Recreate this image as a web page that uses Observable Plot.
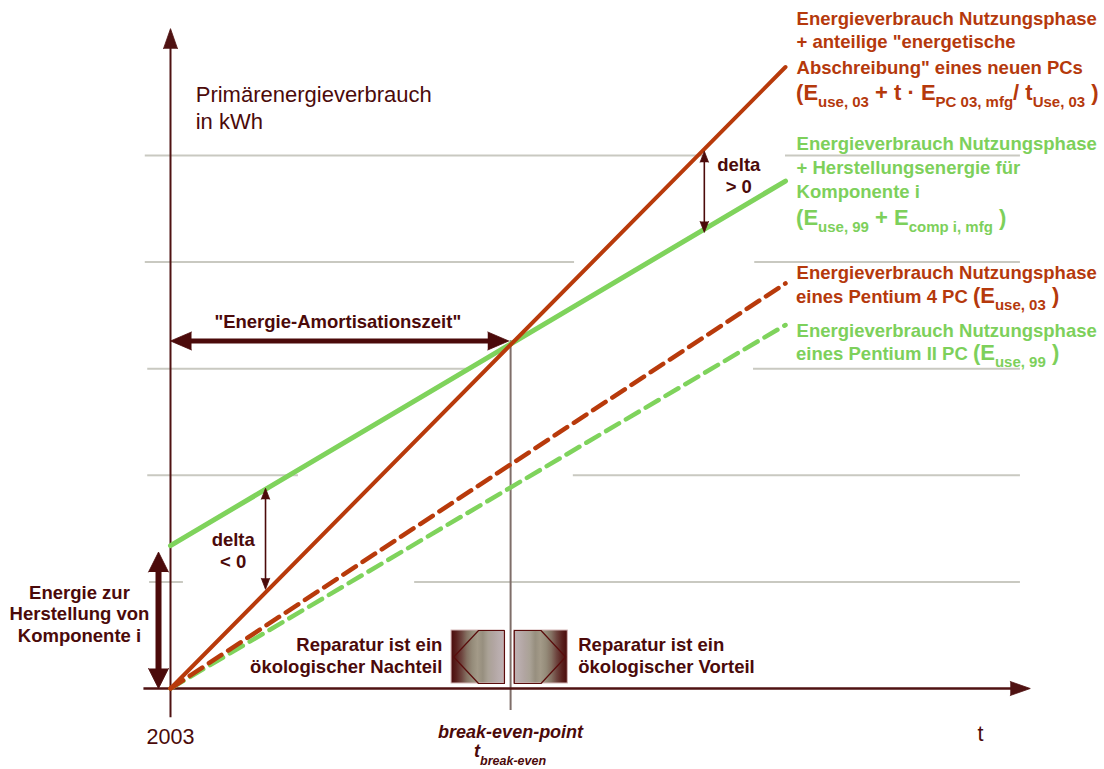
<!DOCTYPE html>
<html>
<head>
<meta charset="utf-8">
<script src="https://cdn.jsdelivr.net/npm/d3@7"></script>
<script src="https://cdn.jsdelivr.net/npm/@observablehq/plot@0.6"></script>
<style>
  body { margin: 0; background: #fff; }
  svg { display: block; }
</style>
</head>
<body>
<div id="chart"></div>
<script>
// ---------------- data (abstract units: t = time, e = energy in grid steps) ----------------
const lineT = [0, 10];
const energyNewPC  = [0, 5.83];   // E_use,03 + t · E_PC03,mfg / t_Use,03
const energyRepair = [1.34, 4.76]; // E_use,99 + E_comp i,mfg
const energyP4     = [0, 3.80];   // E_use,03
const energyP2     = [0, 3.41];   // E_use,99
const seriesNames  = ["newPC", "repair", "p4", "p2"];
const seriesValues = [energyNewPC, energyRepair, energyP4, energyP2];
const breakEvenT = 5.53;
const deltaT = [1.545, 8.68];           // where the two "delta" arrows are measured
const componentEnergy = [0, 1.28];      // "Energie zur Herstellung von Komponente i"
const gridLevels  = [5, 4, 3, 2, 1];
const gridStart   = [-0.41, -0.41, -0.37, -0.37, -0.34];
const gridGapFrom = [8.70, 6.57, 4.86, 2.08, 0.21];
const gridGapTo   = [10.0, 9.50, 9.48, 6.55, 3.97];
const gridEnd = 13.82;
const xTickLabels = ["2003"];

// ---------------- styling / layout ----------------
const FONT = "'Liberation Sans', Arial, Helvetica, sans-serif";
const MAROON = "#4b0a0a";
const AXIS = "#4f1212";
const RED = "#b83a0b";
const REDTXT = "#b5390c";
const GREEN = "#7fd35c";
const GREENTXT = "#7dd05b";
const GRID = "#c9c9c1";
const BE = "#7f6e69";
const LABEL = 18.5;

const X_DOMAIN = [0, 10], X_RANGE = [170, 785];
const Y_DOMAIN = [0, 5],  Y_RANGE = [688, 155];
const pxPerT = (X_RANGE[1] - X_RANGE[0]) / (X_DOMAIN[1] - X_DOMAIN[0]);
const pxPerE = (Y_RANGE[0] - Y_RANGE[1]) / (Y_DOMAIN[1] - Y_DOMAIN[0]);

// ---------------- derived tables ----------------
const lineRows = seriesNames.flatMap((s, i) => lineT.map((t, j) => ({series: s, t, e: seriesValues[i][j]})));
const valueAt = (vals, t) => vals[0] + (vals[1] - vals[0]) * (t - lineT[0]) / (lineT[1] - lineT[0]);
const gridRows = gridLevels.flatMap((e, i) => [
  {e, x1: gridStart[i], x2: gridGapFrom[i]},
  {e, x1: gridGapTo[i], x2: gridEnd}
]);

// arrow helper: shaft (link) + filled spike heads
function arrow(x1, y1, x2, y2, {both = false, len = 20, r = 7, width = 2, color = MAROON} = {}) {
  const dxp = (x2 - x1) * pxPerT, dyp = -(y2 - y1) * pxPerE;
  const L = Math.hypot(dxp, dyp);
  const ux = dxp / L / pxPerT, uy = -dyp / L / pxPerE;
  const cut = len * 0.6;
  const rot = Math.atan2(dxp, -dyp) * 180 / Math.PI;
  const s = both ? {x: x1 + ux * cut, y: y1 + uy * cut} : {x: x1, y: y1};
  const e = {x: x2 - ux * cut, y: y2 - uy * cut};
  const heads = [{x: x2, y: y2, rot}];
  if (both) heads.push({x: x1, y: y1, rot: rot + 180});
  return [
    Plot.link([{x1: s.x, y1: s.y, x2: e.x, y2: e.y}], {x1: "x1", y1: "y1", x2: "x2", y2: "y2", stroke: color, strokeWidth: width, strokeLinecap: "butt"}),
    Plot.vector(heads, {x: "x", y: "y", rotate: "rot", length: len, r, shape: "spike", anchor: "end", fill: color, stroke: color, strokeWidth: 0.8})
  ];
}

// rich text with subscripts (function mark using the plot's scales)
const SIZES = {n: LABEL, b: 22, s: 15};
function richText(rows) {
  return (index, scales) => {
    const g = d3.create("svg:g");
    for (const row of rows) {
      const t = g.append("text")
        .attr("x", scales.x(row.x)).attr("y", scales.y(row.y))
        .attr("fill", row.color).attr("text-anchor", row.anchor || "start")
        .attr("font-family", FONT).attr("font-weight", "bold")
        .style("white-space", "pre")
        .style("font-style", row.italic ? "italic" : null);
      let shifted = false;
      for (const [str, kind] of row.parts) {
        const sp = t.append("tspan").text(str).attr("font-size", (row.sizes || SIZES)[kind]);
        if (kind === "s" && !shifted) { sp.attr("dy", row.sub || 7); shifted = true; }
        else if (kind !== "s" && shifted) { sp.attr("dy", -(row.sub || 7)); shifted = false; }
      }
    }
    return g.node();
  };
}

// gradient boxes ("Reparatur" markers)
const boxes = [
  {side: "left",  x1: 4.57, x2: 5.43, y1: 0.544, y2: 0.047, fill: "url(#gradL)"},
  {side: "right", x1: 5.59, x2: 6.46, y1: 0.544, y2: 0.047, fill: "url(#gradR)"}
];
const boxOutline = boxes.flatMap((b, k) => {
  const w = b.x2 - b.x1, ym = (b.y1 + b.y2) / 2;
  const pts = b.side === "left"
    ? [[b.x2, b.y1], [b.x1 + 0.51 * w, b.y1], [b.x1 + 0.04 * w, ym], [b.x1 + 0.51 * w, b.y2], [b.x2, b.y2], [b.x2, b.y1]]
    : [[b.x1, b.y1], [b.x1 + 0.5 * w, b.y1], [b.x1 + 0.96 * w, ym], [b.x1 + 0.5 * w, b.y2], [b.x1, b.y2], [b.x1, b.y1]];
  return pts.map(([x, y]) => ({k, x, y}));
});
const stripeColors = ["#4a0a0a", "#5a221f", "#6e453f", "#857263", "#958c7a", "#a39a88", "#978f7f", "#aaa296", "#b1a5a1", "#b9adad", "#bfb2b4"];
const gradDefs = () => {
  const defs = d3.create("svg:defs");
  for (const [id, cols] of [["gradL", stripeColors], ["gradR", [...stripeColors].reverse()]]) {
    const lg = defs.append("linearGradient").attr("id", id).attr("x1", "0").attr("x2", "1").attr("y1", "0").attr("y2", "0");
    cols.forEach((c, i) => lg.append("stop").attr("offset", i / (cols.length - 1)).attr("stop-color", c));
  }
  return defs.node();
};

const txt = (rows, o) => Plot.text(rows, {x: "x", y: "y", text: "text", lineAnchor: "bottom", fontFamily: FONT, ...o});

const chart = Plot.plot({
  width: 1104,
  height: 769,
  margin: 0,
  x: {domain: X_DOMAIN, range: X_RANGE, axis: null},
  y: {domain: Y_DOMAIN, range: Y_RANGE, axis: null},
  style: {background: "#fff", fontFamily: FONT, overflow: "visible"},
  marks: [
    gradDefs,
    // grid
    Plot.ruleY(gridRows, {y: "e", x1: "x1", x2: "x2", stroke: GRID, strokeWidth: 2}),
    // break-even vertical
    Plot.ruleX([breakEvenT], {y1: -0.206, y2: valueAt(energyRepair, breakEvenT) + 0.03, stroke: BE, strokeWidth: 2}),
    // axes
    arrow(0, -0.27, 0, 6.19, {len: 20, r: 7, width: 2, color: AXIS}),
    arrow(-0.44, 0, 13.98, 0, {len: 20, r: 7, width: 2.5, color: AXIS}),
    // gradient boxes
    Plot.rect(boxes, {x1: "x1", x2: "x2", y1: "y1", y2: "y2", fill: "fill", stroke: "#d2b4b4", strokeWidth: 1}),
    Plot.line(boxOutline, {x: "x", y: "y", z: "k", stroke: "#5a0c0c", strokeWidth: 1.2}),
    // series
    Plot.line(lineRows.filter(d => d.series === "p2"), {x: "t", y: "e", stroke: GREEN, strokeWidth: 4.5, strokeDasharray: "15,8"}),
    Plot.line(lineRows.filter(d => d.series === "p4"), {x: "t", y: "e", stroke: RED, strokeWidth: 4.5, strokeDasharray: "15,8"}),
    Plot.line(lineRows.filter(d => d.series === "repair"), {x: "t", y: "e", stroke: GREEN, strokeWidth: 5}),
    Plot.line(lineRows.filter(d => d.series === "newPC"), {x: "t", y: "e", stroke: RED, strokeWidth: 4}),
    // annotation arrows
    arrow(0, 3.26, breakEvenT - 0.03, 3.26, {both: true, len: 21, r: 9, width: 5, color: MAROON}),
    arrow(-0.195, componentEnergy[0], -0.195, componentEnergy[1], {both: true, len: 20, r: 10, width: 6, color: MAROON}),
    ...deltaT.map(t => arrow(t, valueAt(energyNewPC, t) + (t > breakEvenT ? -0.02 : 0.03), t, valueAt(energyRepair, t) + (t > breakEvenT ? -0.03 : 0.01), {both: true, len: 11, r: 4.2, width: 1.6, color: MAROON})),
    // axis texts
    txt([{x: 0.41, y: 5.50, text: "Primärenergieverbrauch"}, {x: 0.41, y: 5.244, text: "in kWh"}], {textAnchor: "start", fontSize: 22, fill: MAROON}),
    txt([{x: 0, y: -0.516, text: xTickLabels[0]}, {x: 13.17, y: -0.488, text: "t"}], {textAnchor: "middle", fontSize: 21.5, fill: MAROON}),
    txt([{x: breakEvenT, y: -0.46, text: "break-even-point"}], {textAnchor: "middle", fontSize: 18, fontWeight: "bold", fontStyle: "italic", fill: MAROON}),
    richText([{x: breakEvenT, y: -0.647, anchor: "middle", italic: true, color: MAROON, sub: 8, sizes: {b: 18, s: 12.5}, parts: [["t", "b"], ["break-even", "s"]]}]),
    // annotation texts
    txt([{x: 2.72, y: 3.386, text: "\"Energie-Amortisationszeit\""}], {textAnchor: "middle", fontSize: LABEL, fontWeight: "bold", fill: MAROON}),
    txt([{x: 9.24, y: 4.859, text: "delta"}, {x: 9.24, y: 4.644, text: "> 0"}, {x: 1.02, y: 1.341, text: "delta"}, {x: 1.02, y: 1.126, text: "< 0"}],
        {textAnchor: "middle", fontSize: LABEL, fontWeight: "bold", fill: MAROON}),
    txt([{x: -1.48, y: 0.844, text: "Energie zur"}, {x: -1.48, y: 0.638, text: "Herstellung von"}, {x: -1.48, y: 0.432, text: "Komponente i"}],
        {textAnchor: "middle", fontSize: LABEL, fontWeight: "bold", fill: MAROON}),
    txt([{x: 4.42, y: 0.356, text: "Reparatur ist ein"}, {x: 4.42, y: 0.150, text: "ökologischer Nachteil"}],
        {textAnchor: "end", fontSize: LABEL, fontWeight: "bold", fill: MAROON}),
    txt([{x: 6.63, y: 0.356, text: "Reparatur ist ein"}, {x: 6.63, y: 0.150, text: "ökologischer Vorteil"}],
        {textAnchor: "start", fontSize: LABEL, fontWeight: "bold", fill: MAROON}),
    // series labels
    txt([{x: 10.18, y: 6.22, text: "Energieverbrauch Nutzungsphase"}, {x: 10.18, y: 6.013, text: "+ anteilige \"energetische"},
         {x: 10.18, y: 5.769, text: "Abschreibung\" eines neuen PCs"}, {x: 10.18, y: 3.837, text: "Energieverbrauch Nutzungsphase"}],
        {textAnchor: "start", fontSize: LABEL, fontWeight: "bold", fill: REDTXT}),
    txt([{x: 10.18, y: 5.047, text: "Energieverbrauch Nutzungsphase"}, {x: 10.18, y: 4.831, text: "+ Herstellungsenergie für"},
         {x: 10.18, y: 4.597, text: "Komponente i"}, {x: 10.18, y: 3.302, text: "Energieverbrauch Nutzungsphase"}],
        {textAnchor: "start", fontSize: LABEL, fontWeight: "bold", fill: GREENTXT}),
    richText([
      {x: 10.18, y: 5.516, color: REDTXT, parts: [["(E", "b"], ["use, 03", "s"], [" + t · E", "b"], ["PC 03, mfg", "s"], ["/ t", "b"], ["Use, 03", "s"], [" )", "b"]]},
      {x: 10.18, y: 4.343, color: GREENTXT, parts: [["(E", "b"], ["use, 99", "s"], [" + E", "b"], ["comp i, mfg", "s"], [" )", "b"]]},
      {x: 10.18, y: 3.612, color: REDTXT, parts: [["eines Pentium 4 PC ", "n"], ["(E", "b"], ["use, 03", "s"], [" )", "b"]]},
      {x: 10.18, y: 3.077, color: GREENTXT, parts: [["eines Pentium II PC ", "n"], ["(E", "b"], ["use, 99", "s"], [" )", "b"]]}
    ])
  ]
});
document.getElementById("chart").append(chart);
</script>
</body>
</html>
